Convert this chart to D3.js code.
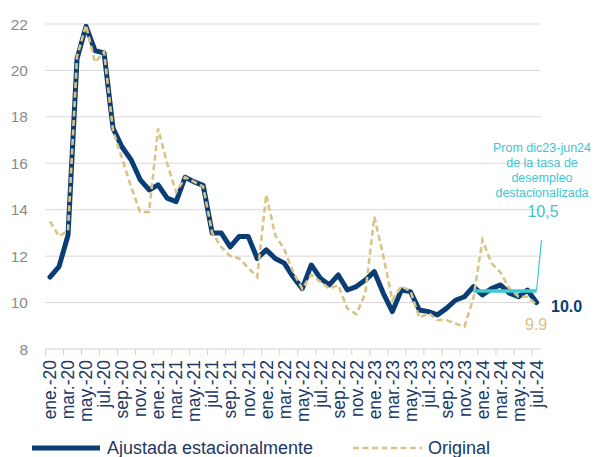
<!DOCTYPE html>
<html>
<head>
<meta charset="utf-8">
<script src="https://cdn.jsdelivr.net/npm/d3@7"></script>
<style>
  body { margin: 0; background: #fff; }
  svg { font-family: Arial, "Liberation Sans", sans-serif; }
</style>
</head>
<body>
<div id="chart"></div>
<script>
// months, ene.-20 .. jul.-24
const months = [
  "ene.-20","feb.-20","mar.-20","abr.-20","may.-20","jun.-20","jul.-20","ago.-20","sep.-20","oct.-20","nov.-20","dic.-20",
  "ene.-21","feb.-21","mar.-21","abr.-21","may.-21","jun.-21","jul.-21","ago.-21","sep.-21","oct.-21","nov.-21","dic.-21",
  "ene.-22","feb.-22","mar.-22","abr.-22","may.-22","jun.-22","jul.-22","ago.-22","sep.-22","oct.-22","nov.-22","dic.-22",
  "ene.-23","feb.-23","mar.-23","abr.-23","may.-23","jun.-23","jul.-23","ago.-23","sep.-23","oct.-23","nov.-23","dic.-23",
  "ene.-24","feb.-24","mar.-24","abr.-24","may.-24","jun.-24","jul.-24"
];

// seasonally adjusted rate
const ajustada = [
  11.1, 11.55, 12.9, 20.5, 21.9, 20.85, 20.75, 17.5, 16.7, 16.15, 15.3, 14.85,
  15.07, 14.5, 14.35, 15.4, 15.2, 15.05, 13.0, 13.0, 12.4, 12.85, 12.85, 11.9,
  12.27, 11.9, 11.7, 11.1, 10.6, 11.62, 11.05, 10.76, 11.19, 10.54, 10.69, 10.97,
  11.33, 10.4, 9.61, 10.54, 10.47, 9.68, 9.61, 9.47, 9.75, 10.1, 10.25, 10.69,
  10.33, 10.6, 10.76, 10.4, 10.25, 10.54, 10.0
];

// original series
const original = [
  13.5, 12.85, 13.1, 20.6, 21.95, 20.35, 20.8, 17.4, 16.2, 15.0, 13.9, 13.9,
  17.5, 16.0, 14.75, 15.4, 15.2, 15.0, 13.0, 12.4, 12.0, 11.9, 11.5, 11.1,
  14.65, 12.9, 12.3, 11.3, 10.6, 11.2, 10.9, 10.6, 10.75, 9.75, 9.5, 10.4,
  13.7, 12.0, 10.1, 10.7, 10.5, 9.35, 9.55, 9.25, 9.25, 9.1, 8.96, 10.2,
  12.7, 11.7, 11.3, 10.6, 10.25, 10.25, 9.9
];

const yTicks = [8, 10, 12, 14, 16, 18, 20, 22];

// average dic23-jun24 line
const promValue = 10.5;
const promFrom = "dic.-23";
const promTo = "jul.-24";
const promText = ["Prom dic23-jun24", "de la tasa  de", "desempleo", "destacionalizada"];
const promLabel = "10,5";
const lastAjustada = "10.0";
const lastOriginal = "9.9";

const width = 596, height = 457;
const navy = "#0B3D75";
const gold = "#D9C386";
const teal = "#3CCBCF";

const svg = d3.select("#chart").append("svg")
  .attr("width", width)
  .attr("height", height);

const x = d3.scaleBand().domain(months).range([45.5, 541]);
const y = d3.scaleLinear().domain([8, 22]).range([349, 24]);
const cx = (m) => x(m) + x.bandwidth() / 2;

// gridlines
svg.append("g")
  .selectAll("line")
  .data(yTicks.filter((d) => d > 8))
  .join("line")
  .attr("x1", 45).attr("x2", 541)
  .attr("y1", (d) => y(d)).attr("y2", (d) => y(d))
  .attr("stroke", "#D9D9D9").attr("stroke-width", 1);

// y labels
svg.append("g")
  .selectAll("text")
  .data(yTicks)
  .join("text")
  .attr("x", 28)
  .attr("y", (d) => y(d))
  .attr("dy", "0.36em")
  .attr("text-anchor", "end")
  .attr("font-size", 15.5)
  .attr("fill", "#8A8A8A")
  .text((d) => d);

// x axis: ticks every 2 months, at category boundaries
const xAxis = svg.append("g").attr("transform", `translate(0,${y(8)})`);
xAxis.append("line")
  .attr("x1", 45).attr("x2", 541)
  .attr("stroke", "#D0D0D0");
xAxis.selectAll("line.tk")
  .data(months.filter((d, i) => i % 2 === 0))
  .join("line")
  .attr("class", "tk")
  .attr("x1", (d) => x(d)).attr("x2", (d) => x(d))
  .attr("y1", 0).attr("y2", 6)
  .attr("stroke", "#D0D0D0");
xAxis.selectAll("text")
  .data(months.filter((d, i) => i % 2 === 0))
  .join("text")
  .attr("transform", (d) => `translate(${cx(d)},11) rotate(-90)`)
  .attr("dy", "0.36em")
  .attr("text-anchor", "end")
  .attr("font-size", 17.5)
  .attr("fill", "#203864")
  .text((d) => d);

// lines
const line = (vals) => d3.line()
  .x((d, i) => cx(months[i]))
  .y((d) => y(d))(vals);

svg.append("path")
  .attr("d", line(ajustada))
  .attr("fill", "none")
  .attr("stroke", navy)
  .attr("stroke-width", 5)
  .attr("stroke-linejoin", "round")
  .attr("stroke-linecap", "round");

svg.append("path")
  .attr("d", line(original))
  .attr("fill", "none")
  .attr("stroke", gold)
  .attr("stroke-width", 2.6)
  .attr("stroke-dasharray", "6,3.5");

// average line + leader
const px1 = cx(promFrom), px2 = cx(promTo), py = y(promValue);
svg.append("line")
  .attr("x1", px1).attr("x2", px2)
  .attr("y1", py).attr("y2", py)
  .attr("stroke", teal).attr("stroke-width", 3.5);
svg.append("line")
  .attr("x1", px2).attr("x2", px2 + 5)
  .attr("y1", py).attr("y2", 240)
  .attr("stroke", teal).attr("stroke-width", 1.2);

const ann = svg.append("text")
  .attr("text-anchor", "middle")
  .attr("font-size", 12.5)
  .attr("fill", "#3DC6D1");
promText.forEach((t, i) => {
  ann.append("tspan").attr("x", 542).attr("y", 152 + i * 15).text(t);
});
svg.append("text")
  .attr("x", 543).attr("y", 217)
  .attr("text-anchor", "middle")
  .attr("font-size", 16)
  .attr("fill", "#3DC6D1")
  .text(promLabel);

// end labels
svg.append("text")
  .attr("x", 551).attr("y", 312)
  .attr("font-size", 16).attr("font-weight", "bold")
  .attr("fill", navy)
  .text(lastAjustada);
svg.append("text")
  .attr("x", 525).attr("y", 330)
  .attr("font-size", 16)
  .attr("fill", gold)
  .text(lastOriginal);

// legend
const lg = svg.append("g").attr("transform", "translate(0,448)");
lg.append("line")
  .attr("x1", 32).attr("x2", 100)
  .attr("stroke", navy).attr("stroke-width", 5);
lg.append("text")
  .attr("x", 107).attr("dy", "0.36em")
  .attr("font-size", 18).attr("fill", "#203864")
  .text("Ajustada estacionalmente");
lg.append("line")
  .attr("x1", 353).attr("x2", 422)
  .attr("stroke", gold).attr("stroke-width", 2.6)
  .attr("stroke-dasharray", "6,3.5");
lg.append("text")
  .attr("x", 428).attr("dy", "0.36em")
  .attr("font-size", 18).attr("fill", "#203864")
  .text("Original");
</script>
</body>
</html>
